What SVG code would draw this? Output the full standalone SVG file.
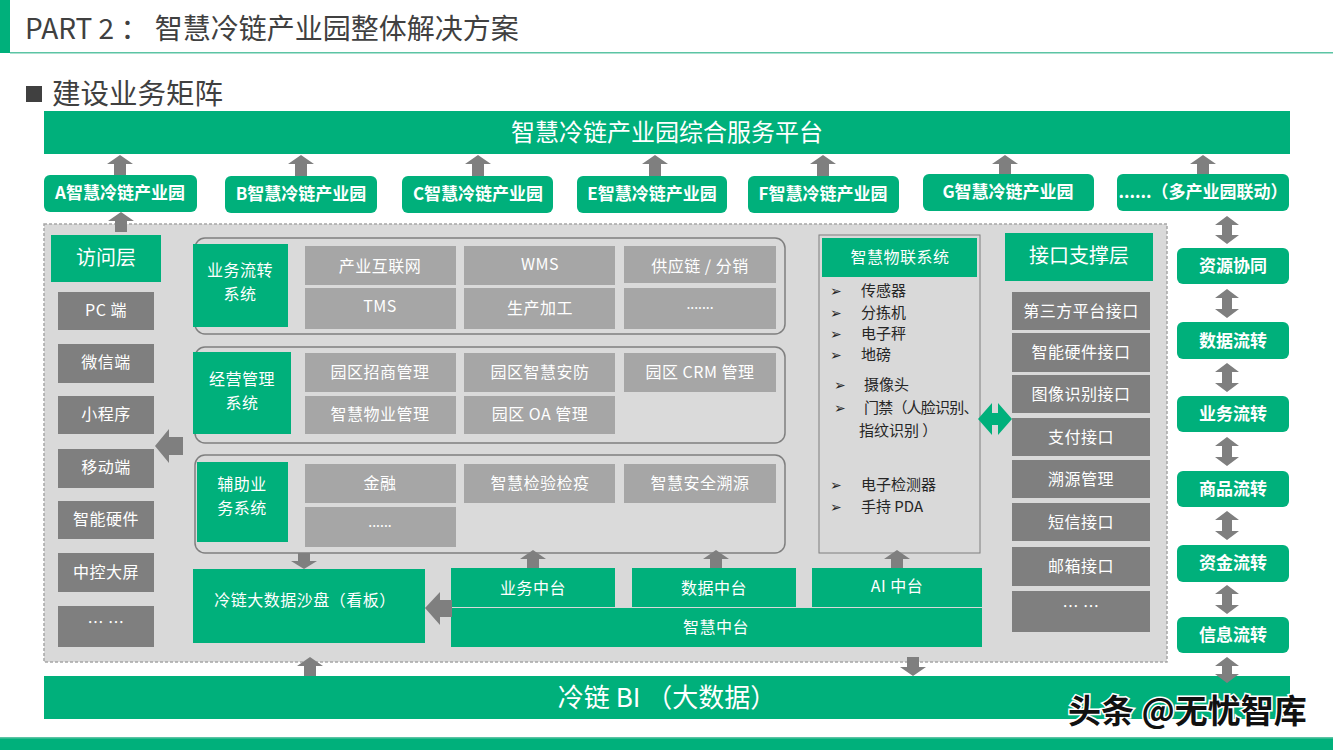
<svg xmlns="http://www.w3.org/2000/svg" width="1333" height="750" viewBox="0 0 1333 750">
<style>
.t{font-family:"Noto Sans CJK SC","Noto Sans",sans-serif}
.g{fill:#00b07b}
.dk{fill:#7f7f7f}
.lt{fill:#a6a6a6}
.ar{fill:#7f7f7f}
.park{font-size:17px;font-weight:bold;fill:#fff;text-anchor:middle}
.side{font-size:17px;font-weight:bold;fill:#fff;text-anchor:middle}
.cell{font-size:16px;fill:#fff;text-anchor:middle;letter-spacing:0.5px}
.dots{font-size:14px;fill:#fff;text-anchor:middle}
.li{font-size:15px;fill:#262626}
.mk{font-family:"DejaVu Sans",sans-serif;font-size:14px;fill:#262626}
.grp{fill:#dadada;stroke:#7f7f7f;stroke-width:1.5}
</style>
<rect width="1333" height="750" fill="#ffffff"/>
<g id="header">
<rect x="0" y="0" width="10" height="53" class="g"/>
<rect x="10" y="52" width="1323" height="1.5" fill="#5cc4a4"/>
<text x="25" y="39" class="t" font-size="28" fill="#404040">PART 2 ： 智慧冷链产业园整体解决方案</text>
<rect x="26" y="86" width="16" height="16" fill="#404040"/>
<text x="52" y="104" class="t" font-size="28.5" fill="#404040">建设业务矩阵</text>
</g>
<g id="platform">
<rect x="44" y="111" width="1246" height="43" class="g"/>
<text x="667" y="141" class="t" font-size="24" fill="#fff" text-anchor="middle">智慧冷链产业园综合服务平台</text>
</g>
<g id="parkA"><rect x="44" y="175" width="153" height="37" rx="6" class="g"/><text x="120" y="199" class="t park">A智慧冷链产业园</text></g>
<g id="parkB"><rect x="225" y="176" width="152" height="37" rx="6" class="g"/><text x="301" y="200" class="t park">B智慧冷链产业园</text></g>
<g id="parkC"><rect x="402" y="176" width="151" height="37" rx="6" class="g"/><text x="478" y="200" class="t park">C智慧冷链产业园</text></g>
<g id="parkE"><rect x="577" y="176" width="150" height="37" rx="6" class="g"/><text x="652" y="200" class="t park">E智慧冷链产业园</text></g>
<g id="parkF"><rect x="748" y="176" width="151" height="37" rx="6" class="g"/><text x="823" y="200" class="t park">F智慧冷链产业园</text></g>
<g id="parkG"><rect x="923" y="174" width="171" height="37" rx="6" class="g"/><text x="1008" y="198" class="t park">G智慧冷链产业园</text></g>
<g id="parkMore"><rect x="1117" y="174" width="172" height="37" rx="6" class="g"/><text x="1203" y="198" class="t park" font-size="16">......（多产业园联动）</text></g>
<g id="panel">
<rect x="44" y="224" width="1123" height="438" fill="#d9d9d9" stroke="#a6a6a6" stroke-width="1.5" stroke-dasharray="3,2"/>
</g>
<g id="access">
<rect x="51" y="235" width="110" height="47" class="g"/>
<text x="106" y="265" class="t" font-size="20" fill="#fff" text-anchor="middle">访问层</text>
<rect x="58" y="292" width="96" height="38" class="dk"/><text x="106" y="316" class="t cell">PC 端</text>
<rect x="58" y="344" width="96" height="39" class="dk"/><text x="106" y="368" class="t cell">微信端</text>
<rect x="58" y="396" width="96" height="38" class="dk"/><text x="106" y="420" class="t cell">小程序</text>
<rect x="58" y="449" width="96" height="39" class="dk"/><text x="106" y="473" class="t cell">移动端</text>
<rect x="58" y="501" width="96" height="38" class="dk"/><text x="106" y="525" class="t cell">智能硬件</text>
<rect x="58" y="553" width="96" height="39" class="dk"/><text x="106" y="578" class="t cell">中控大屏</text>
<rect x="58" y="606" width="96" height="41" class="dk"/><text x="106" y="628" class="t cell">… …</text>
</g>
<g id="grp1">
<rect x="195" y="238" width="590" height="96" rx="10" class="grp"/>
<rect x="193" y="244" width="95" height="83" class="g"/>
<text x="240" y="276" class="t cell">业务流转</text>
<text x="240" y="300" class="t cell">系统</text>
<rect x="305" y="246" width="151" height="39" class="lt"/><text x="380" y="272" class="t cell">产业互联网</text>
<rect x="464" y="246" width="151" height="39" class="lt"/><text x="540" y="270" class="t cell" letter-spacing="2">WMS</text>
<rect x="624" y="246" width="152" height="37" class="lt"/><text x="700" y="272" class="t cell">供应链 / 分销</text>
<rect x="305" y="288" width="151" height="41" class="lt"/><text x="380" y="312" class="t cell" letter-spacing="2">TMS</text>
<rect x="464" y="288" width="151" height="41" class="lt"/><text x="540" y="314" class="t cell">生产加工</text>
<rect x="624" y="288" width="152" height="41" class="lt"/><text x="700" y="309" class="t dots">.......</text>
</g>
<g id="grp2">
<rect x="195" y="347" width="590" height="96" rx="10" class="grp"/>
<rect x="193" y="352" width="98" height="82" class="g"/>
<text x="242" y="385" class="t cell">经营管理</text>
<text x="242" y="409" class="t cell">系统</text>
<rect x="305" y="353" width="151" height="39" class="lt"/><text x="380" y="378" class="t cell">园区招商管理</text>
<rect x="464" y="353" width="151" height="39" class="lt"/><text x="540" y="378" class="t cell">园区智慧安防</text>
<rect x="624" y="353" width="152" height="39" class="lt"/><text x="700" y="378" class="t cell">园区 CRM 管理</text>
<rect x="305" y="396" width="151" height="38" class="lt"/><text x="380" y="420" class="t cell">智慧物业管理</text>
<rect x="464" y="396" width="151" height="38" class="lt"/><text x="540" y="420" class="t cell">园区 OA 管理</text>
</g>
<g id="grp3">
<rect x="195" y="455" width="590" height="98" rx="10" class="grp"/>
<rect x="197" y="462" width="91" height="80" class="g"/>
<text x="242" y="490" class="t cell">辅助业</text>
<text x="242" y="514" class="t cell">务系统</text>
<rect x="305" y="464" width="151" height="39" class="lt"/><text x="380" y="489" class="t cell">金融</text>
<rect x="464" y="464" width="151" height="39" class="lt"/><text x="540" y="489" class="t cell">智慧检验检疫</text>
<rect x="624" y="464" width="152" height="39" class="lt"/><text x="700" y="489" class="t cell">智慧安全溯源</text>
<rect x="305" y="507" width="151" height="40" class="lt"/><text x="380" y="527" class="t dots">......</text>
</g>
<g id="iot">
<rect x="819" y="235" width="161" height="318" fill="#d9d9d9" stroke="#7f7f7f" stroke-width="1"/>
<rect x="822" y="238" width="155" height="39" class="g"/>
<text x="900" y="263" class="t cell">智慧物联系统</text>
<text x="830" y="296" class="mk">➢</text><text x="861" y="296" class="t li">传感器</text>
<text x="830" y="318" class="mk">➢</text><text x="861" y="318" class="t li">分拣机</text>
<text x="830" y="339" class="mk">➢</text><text x="861" y="339" class="t li">电子秤</text>
<text x="830" y="360" class="mk">➢</text><text x="861" y="360" class="t li">地磅</text>
<text x="834" y="390" class="mk">➢</text><text x="864" y="390" class="t li">摄像头</text>
<text x="834" y="413" class="mk">➢</text><text x="864" y="413" class="t li" letter-spacing="-0.8">门禁（人脸识别、</text>
<text x="859" y="436" class="t li">指纹识别 ）</text>
<text x="830" y="490" class="mk">➢</text><text x="861" y="490" class="t li">电子检测器</text>
<text x="830" y="512" class="mk">➢</text><text x="861" y="512" class="t li">手持 PDA</text>
</g>
<g id="iface">
<rect x="1005" y="233" width="148" height="48" class="g"/>
<text x="1079" y="263" class="t" font-size="20" fill="#fff" text-anchor="middle">接口支撑层</text>
<rect x="1012" y="292" width="138" height="38" class="dk"/><text x="1081" y="317" class="t cell">第三方平台接口</text>
<rect x="1012" y="333" width="138" height="39" class="dk"/><text x="1081" y="358" class="t cell">智能硬件接口</text>
<rect x="1012" y="375" width="138" height="38" class="dk"/><text x="1081" y="400" class="t cell">图像识别接口</text>
<rect x="1012" y="418" width="138" height="38" class="dk"/><text x="1081" y="443" class="t cell">支付接口</text>
<rect x="1012" y="460" width="138" height="38" class="dk"/><text x="1081" y="485" class="t cell">溯源管理</text>
<rect x="1012" y="503" width="138" height="38" class="dk"/><text x="1081" y="528" class="t cell">短信接口</text>
<rect x="1012" y="547" width="138" height="39" class="dk"/><text x="1081" y="572" class="t cell">邮箱接口</text>
<rect x="1012" y="591" width="138" height="41" class="dk"/><text x="1081" y="612" class="t cell">… …</text>
</g>
<g id="sandbox">
<rect x="193" y="569" width="232" height="74" class="g"/>
<text x="305" y="606" class="t cell">冷链大数据沙盘（看板）</text>
</g>
<g id="zhongtai">
<rect x="451" y="568" width="164" height="39" class="g"/><text x="533" y="594" class="t cell" letter-spacing="1.5">业务中台</text>
<rect x="632" y="568" width="164" height="39" class="g"/><text x="714" y="594" class="t cell" letter-spacing="1.5">数据中台</text>
<rect x="812" y="568" width="170" height="39" class="g"/><text x="897" y="592" class="t cell" letter-spacing="1.5">AI 中台</text>
<rect x="451" y="608" width="531" height="39" class="g"/><text x="716" y="633" class="t cell" letter-spacing="1.5">智慧中台</text>
</g>
<g id="r1"><rect x="1177" y="248" width="112" height="36" rx="6" class="g"/><text x="1233" y="272" class="t side">资源协同</text></g>
<g id="r2"><rect x="1177" y="322" width="112" height="37" rx="6" class="g"/><text x="1233" y="347" class="t side">数据流转</text></g>
<g id="r3"><rect x="1177" y="396" width="112" height="36" rx="6" class="g"/><text x="1233" y="420" class="t side">业务流转</text></g>
<g id="r4"><rect x="1177" y="471" width="112" height="36" rx="6" class="g"/><text x="1233" y="495" class="t side">商品流转</text></g>
<g id="r5"><rect x="1177" y="545" width="112" height="37" rx="6" class="g"/><text x="1233" y="569" class="t side">资金流转</text></g>
<g id="r6"><rect x="1177" y="617" width="112" height="36" rx="6" class="g"/><text x="1233" y="641" class="t side">信息流转</text></g>
<g id="bi">
<rect x="44" y="676" width="1246" height="43" class="g"/>
<text x="667" y="707" class="t" font-size="26" fill="#fff" text-anchor="middle">冷链 BI （大数据）</text>
</g>
<g id="connectors">
<path class="ar" d="M120,155 L133,164 L126,164 L126,175 L114,175 L114,164 L107,164 Z"/>
<path class="ar" d="M301,155 L314,164 L307,164 L307,176 L295,176 L295,164 L288,164 Z"/>
<path class="ar" d="M478,155 L491,164 L484,164 L484,176 L472,176 L472,164 L465,164 Z"/>
<path class="ar" d="M655,155 L668,164 L661,164 L661,176 L649,176 L649,164 L642,164 Z"/>
<path class="ar" d="M823,155 L836,164 L829,164 L829,176 L817,176 L817,164 L810,164 Z"/>
<path class="ar" d="M1005,155 L1018,164 L1011,164 L1011,174 L999,174 L999,164 L992,164 Z"/>
<path class="ar" d="M1203,155 L1216,164 L1209,164 L1209,174 L1197,174 L1197,164 L1190,164 Z"/>
<path class="ar" d="M121,212 L134,221 L127,221 L127,232 L115,232 L115,221 L108,221 Z"/>
<path class="ar" d="M155,446 L169,429 L169,437 L183,437 L183,455 L169,455 L169,463 Z"/>
<path class="ar" d="M304,569 L317,561 L310,561 L310,553 L298,553 L298,561 L291,561 Z"/>
<path class="ar" d="M533,550 L546,559 L539,559 L539,568 L527,568 L527,559 L520,559 Z"/>
<path class="ar" d="M716,550 L729,559 L722,559 L722,568 L710,568 L710,559 L703,559 Z"/>
<path class="ar" d="M897,550 L910,559 L903,559 L903,568 L891,568 L891,559 L884,559 Z"/>
<path class="ar" d="M425,608 L440,592 L440,600 L452,600 L452,617 L440,617 L440,625 Z"/>
<path class="g" d="M978,419 L992,403 L992,413 L998,413 L998,403 L1012,419 L998,435 L998,425 L992,425 L992,435 Z"/>
<path class="ar" d="M310,657 L323,666 L316,666 L316,676 L304,676 L304,666 L297,666 Z"/>
<path class="ar" d="M913,676 L926,667 L919,667 L919,657 L907,657 L907,667 L900,667 Z"/>
<path class="ar" d="M1227,216 L1239,225 L1232,225 L1232,235 L1239,235 L1227,244 L1215,235 L1222,235 L1222,225 L1215,225 Z"/>
<path class="ar" d="M1227,289 L1239,298 L1232,298 L1232,309 L1239,309 L1227,318 L1215,309 L1222,309 L1222,298 L1215,298 Z"/>
<path class="ar" d="M1227,363 L1239,372 L1232,372 L1232,383 L1239,383 L1227,392 L1215,383 L1222,383 L1222,372 L1215,372 Z"/>
<path class="ar" d="M1227,437 L1239,446 L1232,446 L1232,457 L1239,457 L1227,466 L1215,457 L1222,457 L1222,446 L1215,446 Z"/>
<path class="ar" d="M1227,511 L1239,520 L1232,520 L1232,531 L1239,531 L1227,540 L1215,531 L1222,531 L1222,520 L1215,520 Z"/>
<path class="ar" d="M1227,585 L1239,594 L1232,594 L1232,605 L1239,605 L1227,614 L1215,605 L1222,605 L1222,594 L1215,594 Z"/>
<path class="ar" d="M1227,657 L1239,666 L1232,666 L1232,674 L1239,674 L1227,683 L1215,674 L1222,674 L1222,666 L1215,666 Z"/>
</g>
<g id="footer">
<rect x="0" y="738" width="1333" height="12" class="g"/>
<rect x="0" y="737" width="1333" height="1.5" fill="#5cc4a4"/>
<text x="1068" y="723" class="t" font-size="33" font-weight="bold" fill="#111" stroke="#fff" stroke-width="3" paint-order="stroke">头条 @无忧智库</text>
</g>
</svg>
